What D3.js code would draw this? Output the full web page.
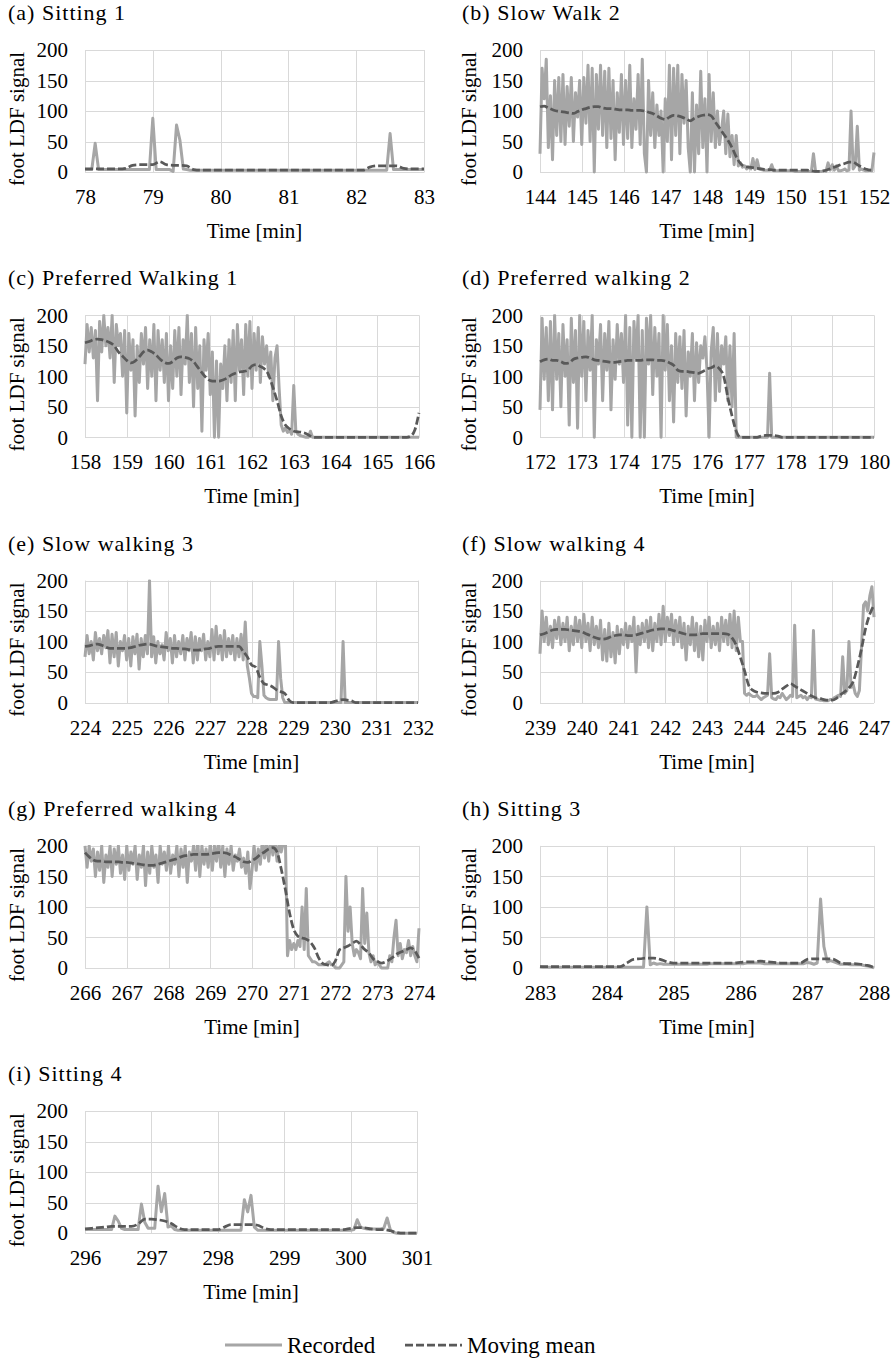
<!DOCTYPE html>
<html><head><meta charset="utf-8">
<script src="https://cdn.jsdelivr.net/npm/d3@7"></script>
<style>
body{margin:0;background:#fff;}
svg{display:block;}
svg text{font-family:'Liberation Serif','Times New Roman',serif !important;}
</style></head><body>
<svg id="chart" width="894" height="1359"></svg>
<script>
// ---------------- DATA ----------------
const panelTitles = ["(a) Sitting 1","(b) Slow Walk 2","(c) Preferred Walking 1","(d) Preferred walking 2",
  "(e) Slow walking 3","(f) Slow walking 4","(g) Preferred walking 4","(h) Sitting 3","(i) Sitting 4"];
const xDomains = [[78,83],[144,152],[158,166],[172,180],[224,232],[239,247],[266,274],[283,288],[296,301]];
const xTickLabels = [
  [78,79,80,81,82,83],
  [144,145,146,147,148,149,150,151,152],
  [158,159,160,161,162,163,164,165,166],
  [172,173,174,175,176,177,178,179,180],
  [224,225,226,227,228,229,230,231,232],
  [239,240,241,242,243,244,245,246,247],
  [266,267,268,269,270,271,272,273,274],
  [283,284,285,286,287,288],
  [296,297,298,299,300,301]
];
const yTickLabels = [0,50,100,150,200];
const yDomain = [0,200];
const yAxisTitle = "foot LDF signal";
const xAxisTitle = "Time [min]";
const seriesNames = ["Recorded","Moving mean"];
const recordedStep = 0.05;   // minutes between recorded samples
const meanStep = 0.1;        // minutes between moving-mean samples

const recordedA = [
4,4,4,47,4,4,4,4,4,4,
4,4,4,4,4,4,4,4,4,4,
88,4,4,4,4,4,1,77,52,5,
4,3,3,3,3,3,3,3,3,3,
3,3,3,3,3,3,3,3,3,3,
3,3,3,3,3,3,3,3,3,3,
3,3,3,3,3,3,3,3,3,3,
3,3,3,3,3,3,3,3,3,3,
3,3,3,3,3,3,3,3,3,3,
63,4,4,4,4,4,4,4,4,4,
4];
const meanA = [
5,5,5,5,5,5,6,11,12,12,
12,17,12,11,11,10,4,3,3,3,
3,3,3,3,3,3,3,3,3,3,
3,3,3,3,3,3,3,3,3,3,
3,3,8,10,10,10,10,6,5,5,
5];

const recordedB = [
30,170,120,185,40,125,20,150,60,155,
50,160,45,140,75,155,50,130,90,150,
45,155,80,175,50,170,0,160,70,175,
60,165,40,170,55,150,20,130,65,160,
45,150,55,175,40,120,70,160,45,185,
30,0,150,60,130,40,110,60,100,0,
120,50,175,20,170,60,175,30,160,80,
150,40,0,130,0,110,30,165,40,120,
0,160,50,130,40,100,45,70,100,30,
95,25,60,12,60,10,15,8,10,5,
8,5,22,4,20,5,4,3,3,3,
3,12,2,2,2,2,2,2,2,2,
2,2,1,1,1,1,1,1,1,1,
1,30,1,1,1,1,2,1,15,3,
12,3,10,2,2,3,5,2,3,100,
5,10,75,3,5,3,2,2,3,2,
32];
const meanB = [
107,108,105,102,100,99,98,97,96,99,
102,104,106,107,107,105,104,104,103,102,
102,102,101,101,101,100,98,96,92,88,
86,90,93,92,90,87,84,88,91,93,
94,92,82,72,62,52,40,25,14,9,
8,7,6,5,4,4,3,3,3,3,
3,3,3,3,3,2,1,1,2,4,
7,9,12,14,16,16,12,8,5,3,
3];

const recordedC = [
120,185,140,180,130,175,60,190,140,200,
150,180,130,200,90,185,150,170,100,175,
40,170,110,160,35,150,90,170,120,180,
80,160,100,185,60,175,110,160,90,170,
60,150,80,175,100,180,70,160,120,200,
90,170,50,180,80,150,10,160,110,170,
70,140,0,125,0,120,80,150,60,160,
90,175,60,185,110,160,70,185,100,190,
80,170,110,180,90,165,120,150,100,140,
60,130,150,80,20,10,15,8,12,5,
85,10,5,3,2,1,0,0,10,0,
0,0,0,0,0,0,0,0,0,0,
0,0,0,0,0,0,0,0,0,0,
0,0,0,0,0,0,0,0,0,0,
0,0,0,0,0,0,0,0,0,0,
0,0,0,0,0,0,0,0,0,0,
0];
const meanC = [
155,157,160,161,160,158,155,150,140,133,
126,122,125,132,140,143,140,135,128,123,
121,124,130,132,131,129,124,115,106,98,
93,92,92,94,97,102,105,107,108,110,
117,119,116,112,102,82,60,35,20,14,
10,9,8,6,2,0,0,0,0,0,
0,0,0,0,0,0,0,0,0,0,
0,0,0,0,0,0,0,0,2,12,
40];

const recordedD = [
45,195,95,180,60,190,45,200,95,170,
50,185,100,160,20,195,90,175,15,200,
100,190,60,175,110,200,0,160,120,185,
60,170,110,190,45,160,95,185,120,170,
90,200,20,180,0,190,130,200,0,175,
0,195,120,200,70,180,100,170,0,200,
110,185,60,150,25,170,90,165,80,175,
35,140,100,170,60,155,90,150,130,165,
110,0,140,180,60,170,75,150,120,165,
60,150,50,170,0,0,0,0,0,0,
0,0,0,0,0,0,0,0,0,0,
105,0,0,0,0,0,0,0,0,0,
0,0,0,0,0,0,0,0,0,0,
0,0,0,0,0,0,0,0,0,0,
0,0,0,0,0,0,0,0,0,0,
0,0,0,0,0,0,0,0,0,0,
0];
const meanD = [
124,127,128,126,126,124,121,122,128,130,
131,132,130,127,126,125,124,123,123,124,
125,126,126,126,126,127,127,127,126,126,
125,122,118,110,108,108,107,106,105,108,
112,114,117,112,100,65,35,10,0,0,
0,0,0,2,3,3,3,2,0,0,
0,0,0,0,0,0,0,0,0,0,
0,0,0,0,0,0,0,0,0,0,
0];

const recordedE = [
75,110,80,100,70,115,85,105,80,110,
90,118,65,112,75,115,60,100,85,110,
70,105,60,108,80,112,55,105,75,110,
80,200,75,108,65,100,80,95,70,115,
85,105,65,110,75,100,80,110,70,105,
85,115,65,108,70,105,85,112,70,100,
75,120,70,125,80,110,70,118,75,105,
80,110,70,105,75,112,70,132,60,40,
15,10,10,8,100,60,12,8,6,5,
5,5,5,100,40,8,0,0,0,0,
0,0,0,0,0,0,0,0,0,0,
0,0,0,0,0,0,0,0,0,0,
0,0,0,0,100,0,0,0,0,0,
0,0,0,0,0,0,0,0,0,0,
0,0,0,0,0,0,0,0,0,0,
0,0,0,0,0,0,0,0,0,0,
0];
const meanE = [
92,93,95,96,94,91,89,89,89,89,
89,90,92,94,95,96,95,93,92,91,
90,89,89,88,88,87,86,86,87,88,
89,91,92,92,92,92,92,92,84,75,
62,58,42,31,29,26,21,18,15,4,
0,0,0,0,0,0,0,0,0,0,
2,4,5,4,3,0,0,0,0,0,
0,0,0,0,0,0,0,0,0,0,
0];

const recordedF = [
80,150,100,140,95,125,90,135,105,140,
95,130,100,140,85,125,95,140,100,135,
90,145,100,130,85,140,95,125,90,135,
70,120,68,130,75,115,65,125,80,120,
95,130,90,125,100,140,50,125,95,130,
100,135,90,140,85,130,100,145,95,158,
100,140,110,145,95,135,100,140,90,130,
70,125,95,140,85,130,75,125,70,135,
100,140,90,125,95,130,85,140,100,135,
95,145,90,150,85,140,100,100,15,12,
15,12,10,10,12,8,5,8,10,12,
80,8,6,5,10,8,15,10,5,8,
12,10,127,8,10,12,8,10,5,10,
8,118,6,5,4,4,3,3,3,5,
5,8,10,12,10,75,15,20,100,25,
30,15,10,20,90,160,165,150,175,190,
140];
const meanF = [
111,113,116,119,120,120,120,119,118,117,
116,113,110,107,105,104,105,108,110,111,
111,110,110,111,113,115,117,119,120,121,
121,120,118,116,114,112,111,111,112,113,
113,113,113,113,113,112,106,94,74,52,
28,20,17,16,15,15,15,17,22,27,
31,27,23,19,15,11,8,7,5,4,
4,7,13,18,24,34,58,88,122,145,
160];

const recordedG = [
200,165,200,175,195,150,190,160,200,140,
185,165,200,150,195,170,200,155,185,145,
200,160,190,170,200,145,185,165,200,135,
190,155,200,165,185,140,200,170,190,160,
200,155,185,170,200,150,195,165,200,140,
190,175,200,160,210,150,200,170,195,165,
205,160,200,175,210,165,200,150,195,170,
200,160,185,175,195,165,180,155,190,130,
160,200,160,195,170,210,180,205,175,210,
185,210,175,205,190,205,210,20,45,30,
40,30,45,35,100,30,130,20,15,10,
10,8,5,5,5,5,8,10,5,5,
0,0,0,5,10,150,60,100,40,20,
30,25,15,130,40,90,25,10,20,5,
10,5,0,0,0,0,20,10,50,78,
20,40,15,30,25,45,20,35,20,10,
65];
const meanG = [
189,182,177,175,175,174,174,174,174,173,
173,172,171,170,169,168,168,169,171,173,
175,177,179,182,184,185,186,186,186,186,
187,188,189,189,188,185,182,178,174,173,
176,180,186,190,195,197,190,162,128,90,
63,52,49,47,42,32,16,7,5,4,
12,30,33,36,40,44,38,30,25,15,
11,8,10,14,19,24,27,30,33,28,
16];

const recordedH = [
2,1,1,1,1,1,1,1,1,1,
1,1,1,1,1,1,1,1,1,1,
1,1,1,1,1,1,1,1,1,1,
1,1,100,5,8,6,7,6,6,6,
6,6,6,6,6,6,6,6,6,6,
6,7,7,7,7,7,7,7,7,7,
7,7,8,8,8,8,8,7,7,7,
7,7,7,7,7,7,7,7,7,7,
9,8,6,8,113,35,10,12,10,8,
6,6,6,5,5,5,5,4,3,2,
0];
const meanH = [
2,2,2,2,2,2,2,2,2,2,
2,2,2,8,14,15,16,16,14,10,
8,8,8,8,8,8,8,8,8,8,
9,10,10,11,10,9,8,8,8,8,
14,15,15,15,14,8,7,7,6,4,
1];

const recordedI = [
6,6,6,6,6,6,6,6,6,28,
20,8,6,6,6,6,6,48,18,8,
8,8,77,35,65,10,12,6,5,5,
5,5,5,5,5,5,5,5,5,5,
5,5,5,5,5,5,5,5,55,35,
62,10,5,5,5,5,5,5,5,5,
5,5,5,5,5,5,5,5,5,5,
5,5,5,5,5,5,5,5,5,5,
5,6,22,10,8,7,7,7,7,7,
8,25,5,1,0,0,0,0,0,0,
0];
const meanI = [
7,8,9,10,11,11,11,11,15,23,
23,22,20,16,9,6,6,6,6,6,
6,10,14,14,14,14,13,8,6,6,
6,6,6,6,6,6,6,6,6,6,
8,9,9,7,6,6,4,1,0,0,
0];

const recordedSeries = [recordedA,recordedB,recordedC,recordedD,recordedE,recordedF,recordedG,recordedH,recordedI];
const meanSeries = [meanA,meanB,meanC,meanD,meanE,meanF,meanG,meanH,meanI];

// ---------------- LAYOUT / STYLE ----------------
const fontSize = 21;
const titleSize = 22;
const legendSize = 23;
const colLeft = [85, 540];
const plotRight = [424,874,419,874,418,874,419,874,417];
const rowTop0 = 50, rowPitch = 265.3, plotH = 122;
const gridColor = "#d9d9d9";
const recColor = "#a6a6a6", meanColor = "#595959";
const recWidth = 3, meanWidth = 2.75, meanDash = "8,3";

const svg = d3.select("#chart");
const defs = svg.append("defs");

const panels = panelTitles.map((t,i)=>({
  title:t, domain:xDomains[i], ticks:xTickLabels[i], rec:recordedSeries[i], mean:meanSeries[i]
}));

const crisp = v => Math.round(v) + 0.5;

panels.forEach((p,i)=>{
  const col = i % 2, row = Math.floor(i/2);
  const left = colLeft[col], right = plotRight[i];
  const top = rowTop0 + row*rowPitch, bottom = top + plotH;
  const x = d3.scaleLinear().domain(p.domain).range([left,right]);
  const y = d3.scaleLinear().domain(yDomain).range([bottom,top]);
  const g = svg.append("g");

  // title
  g.append("text").attr("x", col ? 462 : 8).attr("y", top - 30)
    .style("font-size", titleSize + "px").style("letter-spacing", "1px")
    .attr("fill","#000").text(p.title);

  // grid
  const grid = g.append("g").attr("stroke", gridColor).attr("stroke-width", 1).attr("fill","none");
  yTickLabels.forEach(v=>{
    grid.append("line").attr("x1", left).attr("x2", right).attr("y1", crisp(y(v))).attr("y2", crisp(y(v)));
  });
  p.ticks.forEach(v=>{
    grid.append("line").attr("x1", crisp(x(v))).attr("x2", crisp(x(v))).attr("y1", top).attr("y2", bottom+0.5);
  });

  // axes labels (via d3 axes)
  const ax = g.append("g").attr("transform", `translate(0,${bottom})`)
    .call(d3.axisBottom(x).tickValues(p.ticks).tickSize(0).tickPadding(17).tickFormat(d3.format("d")));
  ax.select(".domain").remove();
  ax.attr("font-family", null).attr("font-size", null);
  ax.selectAll("text").attr("fill","#000").style("font-size", fontSize + "px");

  const ay = g.append("g").attr("transform", `translate(${left},0)`)
    .call(d3.axisLeft(y).tickValues(yTickLabels).tickSize(0).tickPadding(17).tickFormat(d3.format("d")));
  ay.select(".domain").remove();
  ay.attr("font-family", null).attr("font-size", null);
  ay.selectAll("text").attr("fill","#000").style("font-size", fontSize + "px");

  // axis titles
  g.append("text").attr("x", (left+right)/2).attr("y", bottom + 66)
    .attr("text-anchor","middle").style("font-size", fontSize + "px")
    .attr("fill","#000").text(xAxisTitle);
  g.append("text")
    .attr("transform", `translate(${col ? 476 : 24},${(top+bottom)/2 + 8}) rotate(-90)`)
    .attr("text-anchor","middle").style("font-size", fontSize + "px")
    .attr("fill","#000").text(yAxisTitle);

  // clip
  const cid = "clip" + i;
  defs.append("clipPath").attr("id", cid).append("rect")
    .attr("x", left - 2).attr("y", top - 1).attr("width", right - left + 4).attr("height", plotH + 4);

  const lines = g.append("g").attr("clip-path", `url(#${cid})`);
  const t0 = p.domain[0];
  const recLine = d3.line().x((d,k)=>x(t0 + k*recordedStep)).y(d=>y(d));
  const meanLine = d3.line().x((d,k)=>x(t0 + k*meanStep)).y(d=>y(d)).curve(d3.curveMonotoneX);

  lines.append("path").datum(p.rec).attr("d", recLine)
    .attr("fill","none").attr("stroke", recColor).attr("stroke-width", recWidth)
    .attr("stroke-linejoin","round");
  lines.append("path").datum(p.mean).attr("d", meanLine)
    .attr("fill","none").attr("stroke", meanColor).attr("stroke-width", meanWidth)
    .attr("stroke-dasharray", meanDash);
});

// legend
const leg = svg.append("g");
const legY = 1345;
const legItems = [
  {name: seriesNames[0], x1: 225, x2: 282, color: recColor, dash: null, w: recWidth},
  {name: seriesNames[1], x1: 405, x2: 462, color: meanColor, dash: meanDash, w: meanWidth}
];
legItems.forEach(it=>{
  leg.append("line").attr("x1", it.x1).attr("x2", it.x2).attr("y1", legY).attr("y2", legY)
    .attr("stroke", it.color).attr("stroke-width", it.w).attr("stroke-dasharray", it.dash);
  leg.append("text").attr("x", it.x2 + 5).attr("y", legY + 8)
    .style("font-size", legendSize + "px").attr("fill","#000").text(it.name);
});
</script></body></html>
